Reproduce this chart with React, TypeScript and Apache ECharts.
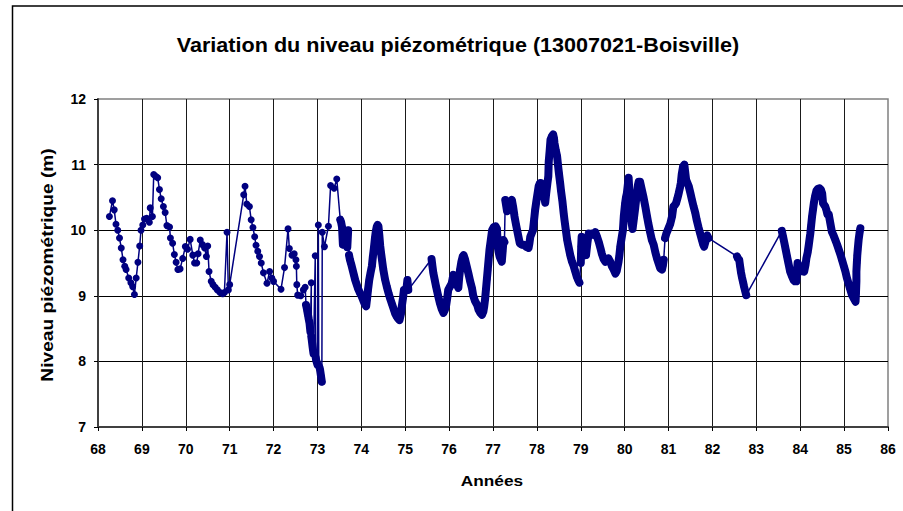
import React, { useEffect, useRef } from "react";
import * as echarts from "echarts";

const chartTitle = "Variation du niveau piézométrique (13007021-Boisville)";
const xAxisName = "Années";
const yAxisName = "Niveau piézométrique (m)";
const xTicks = [68, 69, 70, 71, 72, 73, 74, 75, 76, 77, 78, 79, 80, 81, 82, 83, 84, 85, 86];
const yTicks = [7, 8, 9, 10, 11, 12];

// [year, level]
const period1968to1972: number[][] = [
  [68.26, 10.21], [68.33, 10.45], [68.37, 10.31], [68.41, 10.09], [68.45, 10.0], [68.49, 9.88],
  [68.53, 9.73], [68.57, 9.55], [68.61, 9.45], [68.64, 9.4], [68.7, 9.27], [68.75, 9.2],
  [68.79, 9.14], [68.83, 9.02], [68.87, 9.27], [68.91, 9.51], [68.95, 9.76], [68.98, 10.0],
  [69.02, 10.08], [69.06, 10.17], [69.11, 10.18], [69.17, 10.12], [69.19, 10.34], [69.24, 10.21],
  [69.27, 10.85], [69.32, 10.82], [69.36, 10.8], [69.4, 10.62], [69.44, 10.48], [69.49, 10.36],
  [69.53, 10.27], [69.57, 10.07], [69.63, 10.05], [69.65, 9.88], [69.7, 9.8], [69.74, 9.63],
  [69.78, 9.51], [69.82, 9.4], [69.87, 9.41], [69.93, 9.57], [69.99, 9.75], [70.04, 9.71],
  [70.1, 9.86], [70.16, 9.62], [70.2, 9.5], [70.25, 9.5], [70.28, 9.64], [70.33, 9.85],
  [70.38, 9.78], [70.43, 9.73], [70.47, 9.6], [70.5, 9.76], [70.53, 9.37], [70.58, 9.22],
  [70.62, 9.17], [70.67, 9.13], [70.72, 9.09], [70.78, 9.05], [70.84, 9.03], [70.88, 9.05],
  [70.94, 9.97], [70.97, 9.09], [71.0, 9.17], [71.32, 10.54], [71.35, 10.67], [71.39, 10.4],
  [71.45, 10.36], [71.49, 10.16], [71.53, 10.04], [71.57, 9.9], [71.6, 9.77], [71.64, 9.68],
  [71.68, 9.6], [71.72, 9.5], [71.77, 9.35], [71.85, 9.19], [71.91, 9.37], [71.96, 9.27],
  [72.0, 9.22], [72.17, 9.1], [72.25, 9.43], [72.33, 10.02], [72.36, 9.72], [72.42, 9.62],
  [72.47, 9.64], [72.51, 9.55], [72.52, 9.45], [72.53, 9.17], [72.55, 9.01], [72.62, 9.0],
  [72.68, 9.09], [72.72, 9.13],
];

const period1972to1973: number[][] = [
  [72.74, 8.86], [72.76, 8.8], [72.77, 8.76], [72.79, 8.69], [72.8, 8.65], [72.82, 8.58],
  [72.84, 8.45], [72.86, 9.2], [72.86, 8.38], [72.87, 8.33], [72.89, 8.22], [72.91, 8.12],
  [72.95, 9.61], [72.96, 8.06], [72.97, 8.02], [73.0, 7.95], [73.02, 10.08], [73.03, 7.93],
  [73.05, 7.9], [73.06, 7.87], [73.08, 7.78], [73.1, 7.69], [73.11, 9.97], [73.16, 9.75],
  [73.25, 10.06], [73.3, 10.68], [73.38, 10.64], [73.44, 10.78],
];

const period1973to1975: number[][] = [
  [73.52, 10.16], [73.54, 10.12], [73.56, 10.05], [73.58, 9.78], [73.6, 9.98], [73.62, 9.92],
  [73.64, 9.8], [73.66, 9.9], [73.68, 9.74], [73.7, 10.0], [73.72, 9.62], [73.74, 9.55],
  [73.77, 9.48], [73.8, 9.4], [73.83, 9.32], [73.86, 9.24], [73.89, 9.18], [73.93, 9.1],
  [73.97, 9.04], [74.01, 8.99], [74.05, 8.92], [74.08, 8.87], [74.11, 8.84], [74.13, 8.95],
  [74.15, 9.08], [74.18, 9.24], [74.21, 9.35], [74.24, 9.45], [74.26, 9.58], [74.29, 9.75],
  [74.31, 9.88], [74.33, 9.98], [74.35, 10.05], [74.37, 10.08], [74.39, 10.06], [74.41, 9.92],
  [74.43, 9.76], [74.45, 9.65], [74.47, 9.55], [74.5, 9.4], [74.54, 9.25], [74.58, 9.14],
  [74.62, 9.04], [74.66, 8.95], [74.7, 8.87], [74.74, 8.79], [74.77, 8.73], [74.81, 8.68],
  [74.84, 8.65], [74.87, 8.63], [74.9, 8.72], [74.92, 8.83], [74.95, 8.97], [74.97, 9.09],
  [75.0, 9.08], [75.03, 9.12], [75.05, 9.24], [75.07, 9.09],
];

const period1975to1977: number[][] = [
  [75.6, 9.56], [75.62, 9.45], [75.64, 9.35], [75.67, 9.25], [75.7, 9.15], [75.72, 9.09],
  [75.75, 9.0], [75.79, 8.89], [75.83, 8.8], [75.87, 8.74], [75.9, 8.78], [75.93, 8.84],
  [75.96, 8.98], [75.98, 9.09], [76.02, 9.14], [76.06, 9.19], [76.08, 9.26], [76.1, 9.32],
  [76.13, 9.28], [76.17, 9.24], [76.19, 9.15], [76.21, 9.12], [76.23, 9.28], [76.25, 9.4],
  [76.28, 9.52], [76.31, 9.6], [76.33, 9.62], [76.36, 9.56], [76.4, 9.45], [76.44, 9.34],
  [76.48, 9.22], [76.52, 9.12], [76.55, 9.0], [76.59, 8.92], [76.64, 8.86], [76.67, 8.79],
  [76.71, 8.74], [76.75, 8.71], [76.78, 8.76], [76.8, 8.84], [76.82, 8.95], [76.84, 9.1],
  [76.86, 9.25], [76.88, 9.4], [76.9, 9.55], [76.92, 9.7], [76.95, 9.85], [76.98, 10.0],
];

const period1977to1979: number[][] = [
  [77.02, 10.05], [77.06, 10.06], [77.09, 10.02], [77.11, 9.74], [77.13, 9.66], [77.15, 9.6],
  [77.18, 9.55], [77.2, 9.52], [77.22, 9.68], [77.24, 9.85], [77.26, 9.82], [77.28, 10.46],
  [77.32, 10.29], [77.37, 10.39], [77.43, 10.46], [77.46, 10.35], [77.49, 10.21], [77.52, 10.1],
  [77.55, 10.0], [77.58, 9.9], [77.61, 9.8], [77.65, 9.78], [77.7, 9.78], [77.75, 9.75],
  [77.81, 9.73], [77.83, 9.8], [77.85, 9.9], [77.88, 9.95], [77.91, 10.0], [77.94, 10.18],
  [77.96, 10.31], [77.99, 10.45], [78.02, 10.58], [78.04, 10.67], [78.07, 10.72], [78.09, 10.72],
  [78.12, 10.68], [78.15, 10.62], [78.17, 10.5], [78.19, 10.42], [78.21, 10.55], [78.24, 10.72],
  [78.26, 10.82], [78.27, 11.05], [78.29, 11.2], [78.31, 11.38], [78.34, 11.43], [78.37, 11.46],
  [78.39, 11.4], [78.4, 11.33], [78.43, 11.22], [78.46, 11.13], [78.48, 11.0], [78.5, 10.88],
  [78.53, 10.72], [78.55, 10.6], [78.58, 10.45], [78.61, 10.26], [78.63, 10.15], [78.66, 10.0],
  [78.69, 9.85], [78.72, 9.75], [78.76, 9.62], [78.8, 9.52], [78.84, 9.45], [78.87, 9.38],
  [78.91, 9.29], [78.94, 9.24], [78.97, 9.2],
];

const period1979to1981: number[][] = [
  [79.0, 9.5], [79.01, 9.75], [79.02, 9.9], [79.05, 9.87], [79.08, 9.85], [79.1, 9.72],
  [79.12, 9.62], [79.15, 9.8], [79.18, 9.95], [79.21, 9.94], [79.25, 9.95], [79.29, 9.93],
  [79.33, 9.97], [79.37, 9.9], [79.41, 9.82], [79.45, 9.72], [79.48, 9.64], [79.52, 9.56],
  [79.56, 9.52], [79.6, 9.55], [79.63, 9.57], [79.67, 9.52], [79.71, 9.45], [79.75, 9.4],
  [79.79, 9.34], [79.82, 9.38], [79.86, 9.52], [79.88, 9.62], [79.9, 9.75], [79.93, 9.88],
  [79.96, 10.0], [79.98, 10.21], [80.01, 10.41], [80.03, 10.5], [80.05, 10.56], [80.07, 10.68],
  [80.09, 10.8], [80.11, 10.55], [80.14, 10.26], [80.16, 10.1], [80.18, 10.02], [80.21, 10.18],
  [80.24, 10.34], [80.27, 10.52], [80.3, 10.68], [80.32, 10.74], [80.35, 10.74], [80.38, 10.65],
  [80.43, 10.5], [80.47, 10.36], [80.51, 10.21], [80.54, 10.1], [80.58, 9.97], [80.62, 9.85],
  [80.66, 9.78], [80.7, 9.66], [80.74, 9.56], [80.77, 9.5], [80.81, 9.42], [80.85, 9.4],
  [80.87, 9.46], [80.89, 9.55], [80.92, 9.88], [80.95, 9.95], [80.98, 10.0],
];

const period1981to1983: number[][] = [
  [81.01, 10.05], [81.04, 10.1], [81.08, 10.21], [81.11, 10.36], [81.14, 10.38], [81.17, 10.41],
  [81.2, 10.48], [81.23, 10.56], [81.26, 10.65], [81.28, 10.72], [81.3, 10.85], [81.33, 10.97],
  [81.36, 11.0], [81.38, 10.88], [81.4, 10.77], [81.43, 10.72], [81.46, 10.67], [81.5, 10.56],
  [81.53, 10.47], [81.57, 10.36], [81.61, 10.26], [81.64, 10.16], [81.68, 10.05], [81.72, 9.95],
  [81.76, 9.85], [81.79, 9.78], [81.81, 9.75], [81.84, 9.82], [81.86, 9.9], [81.88, 9.92],
  [81.91, 9.88], [82.56, 9.6], [82.58, 9.57], [82.61, 9.55], [82.63, 9.45], [82.65, 9.36],
  [82.67, 9.29], [82.7, 9.2], [82.72, 9.14], [82.75, 9.06], [82.77, 9.01],
];

const period1983to1985: number[][] = [
  [83.58, 9.99], [83.61, 9.9], [83.64, 9.8], [83.67, 9.7], [83.7, 9.6], [83.73, 9.5],
  [83.77, 9.37], [83.81, 9.3], [83.85, 9.24], [83.88, 9.22], [83.91, 9.22], [83.94, 9.5],
  [83.96, 9.42], [83.99, 9.37], [84.02, 9.4], [84.04, 9.45], [84.07, 9.4], [84.09, 9.37],
  [84.12, 9.47], [84.14, 9.57], [84.17, 9.66], [84.19, 9.75], [84.21, 9.85], [84.23, 9.95],
  [84.25, 10.08], [84.27, 10.21], [84.29, 10.31], [84.31, 10.41], [84.34, 10.52], [84.37, 10.6],
  [84.4, 10.63], [84.44, 10.64], [84.47, 10.62], [84.5, 10.56], [84.52, 10.41], [84.55, 10.38],
  [84.57, 10.36], [84.6, 10.3], [84.62, 10.24], [84.65, 10.24], [84.72, 9.98], [84.76, 9.92],
  [84.8, 9.85], [84.84, 9.78], [84.88, 9.7], [84.92, 9.62], [84.95, 9.55], [84.99, 9.46],
  [85.03, 9.37], [85.06, 9.28], [85.1, 9.19], [85.14, 9.1], [85.18, 9.01], [85.22, 8.96],
  [85.26, 8.91], [85.27, 9.04], [85.28, 9.22], [85.28, 9.37], [85.29, 9.5], [85.3, 9.62],
  [85.31, 9.7], [85.33, 9.85], [85.35, 9.95], [85.37, 10.03],
];

const allLevels = [
  ...period1968to1972,
  ...period1972to1973,
  ...period1973to1975,
  ...period1975to1977,
  ...period1977to1979,
  ...period1979to1981,
  ...period1981to1983,
  ...period1983to1985,
];

// closely spaced readings (the late-1972 descent and everything from mid-1973) are
// drawn as a continuous thick band, broken where consecutive readings are far apart
const lateDescent = period1972to1973.filter((p) => p[0] <= 73.1);
const densePeriods = [
  ...lateDescent,
  ...period1973to1975,
  ...period1975to1977,
  ...period1977to1979,
  ...period1979to1981,
  ...period1981to1983,
  ...period1983to1985,
];
const denseBand: (number | string)[][] = [];
densePeriods.forEach((p, i) => {
  if (i > 0) {
    const q = densePeriods[i - 1];
    if (p[0] - q[0] > 0.1 || Math.abs(p[1] - q[1]) > 0.3) denseBand.push([p[0], "-"]);
  }
  denseBand.push(p);
});

const FONT = "'Liberation Sans', Arial, sans-serif";
const NAVY = "#000080";

export default function App() {
  const ref = useRef<HTMLDivElement>(null);
  useEffect(() => {
    if (!ref.current) return;
    const chart = echarts.init(ref.current, undefined, { renderer: "svg" });
    chart.setOption({
      animation: false,
      backgroundColor: "#ffffff",
      grid: {
        left: 98,
        right: 15,
        top: 99,
        bottom: 84,
        show: true,
        borderColor: "#808080",
        borderWidth: 1.5,
        backgroundColor: "transparent",
      },
      xAxis: {
        type: "value",
        min: xTicks[0],
        max: xTicks[xTicks.length - 1],
        interval: 1,
        axisLine: { show: true, lineStyle: { color: "#404040", width: 2 } },
        axisTick: { show: true, inside: false, length: 4, lineStyle: { color: "#000", width: 1 } },
        axisLabel: {
          margin: 15,
          color: "#000",
          fontFamily: FONT,
          fontWeight: "bold",
          fontSize: 14,
        },
        splitLine: { show: true, showMinLine: false, showMaxLine: false, lineStyle: { color: "#1a1a1a", width: 1 } },
      },
      yAxis: {
        type: "value",
        min: yTicks[0],
        max: yTicks[yTicks.length - 1],
        interval: 1,
        axisLine: { show: true, lineStyle: { color: "#404040", width: 2 } },
        axisTick: { show: true, inside: false, length: 4, lineStyle: { color: "#000", width: 1 } },
        axisLabel: {
          margin: 12,
          color: "#000",
          fontFamily: FONT,
          fontWeight: "bold",
          fontSize: 14,
        },
        splitLine: { show: true, showMinLine: false, showMaxLine: false, lineStyle: { color: "#000", width: 1 } },
      },
      graphic: [
        {
          type: "rect",
          silent: true,
          shape: { x: 12.5, y: 6, width: 910, height: 530 },
          style: { fill: "none", stroke: "#000", lineWidth: 1.5 },
        },
        {
          type: "text",
          x: 458,
          y: 45,
          scaleX: 1.08,
          style: {
            text: chartTitle,
            font: `bold 20px ${FONT}`,
            fill: "#000",
            align: "center",
            verticalAlign: "middle",
          },
        },
        {
          type: "text",
          x: 48,
          y: 265,
          rotation: Math.PI / 2,
          scaleX: 1.2,
          style: {
            text: yAxisName,
            font: `bold 16px ${FONT}`,
            fill: "#000",
            align: "center",
            verticalAlign: "middle",
          },
        },
        {
          type: "text",
          x: 492,
          y: 480,
          scaleX: 1.15,
          style: {
            text: xAxisName,
            font: `bold 15px ${FONT}`,
            fill: "#000",
            align: "center",
            verticalAlign: "middle",
          },
        },
      ],
      series: [
        {
          type: "line",
          data: denseBand,
          symbol: "none",
          connectNulls: false,
          lineStyle: { color: NAVY, width: 8, cap: "round", join: "round" },
          z: 4,
          silent: true,
        },
        {
          type: "line",
          data: allLevels,
          showAllSymbol: true,
          symbol: "circle",
          symbolSize: 7,
          color: NAVY,
          itemStyle: { color: NAVY },
          lineStyle: { color: NAVY, width: 1.5 },
          z: 5,
        },
      ],
    });
    return () => chart.dispose();
  }, []);
  return (
    <div
      ref={ref}
      style={{ position: "fixed", left: 0, top: 0, width: 903, height: 511, background: "#fff" }}
    />
  );
}
